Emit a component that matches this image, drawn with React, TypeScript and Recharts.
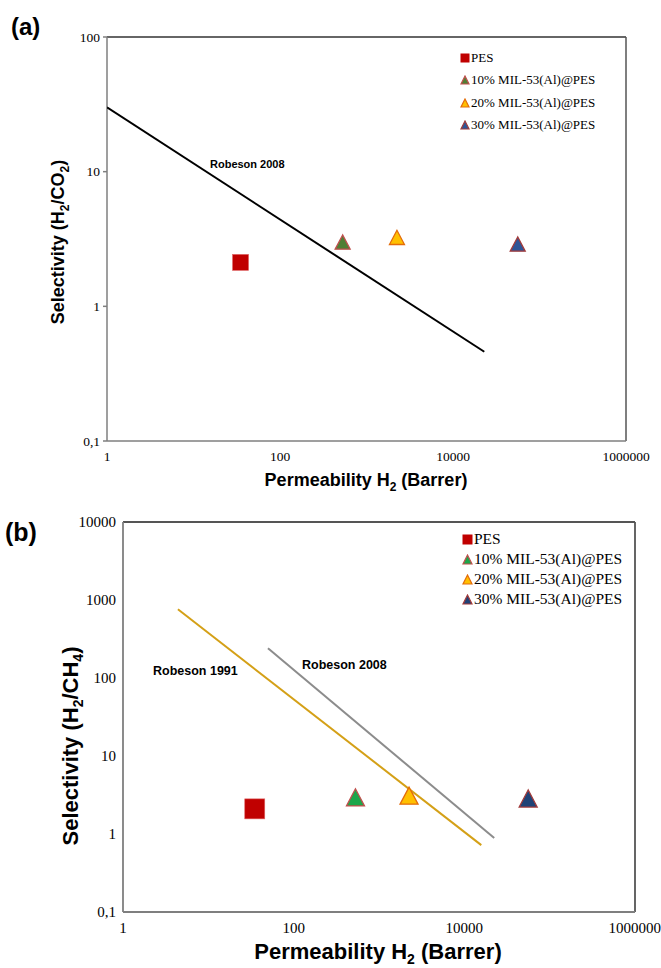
import React from 'react'
import {
  ScatterChart,
  Scatter,
  XAxis,
  YAxis,
  ReferenceLine,
} from 'recharts'

// H2 permeability (Barrer) for PES and the three MIL-53(Al)@PES loadings
const seriesNames = ['PES', '10% MIL-53(Al)@PES', '20% MIL-53(Al)@PES', '30% MIL-53(Al)@PES']
const permeability = [35, 530, 2250, 56000]
const selectivityCO2 = [2.12, 3.0, 3.25, 2.9]
const selectivityCH4 = [2.1, 2.95, 3.1, 2.85]

// upper bound lines (end points)
const robeson2008CO2P = [1, 23000]
const robeson2008CO2S = [30, 0.46]
const robeson1991CH4P = [4.4, 15800]
const robeson1991CH4S = [760, 0.72]
const robeson2008CH4P = [50, 22400]
const robeson2008CH4S = [240, 0.89]

const xTicks = [1, 100, 10000, 1000000]
const yTicksA = [0.1, 1, 10, 100]
const yTicksB = [0.1, 1, 10, 100, 1000, 10000]

const fillsA = ['#C00000', '#4F7F35', '#FFC000', '#2E5597']
const fillsB = ['#C00000', '#1DA64A', '#FFC000', '#1F4276']
const strokes = ['#C00000', '#C0504D', '#E46C0A', '#A23B3B']

const toRows = (xs: number[], ys: number[]) => xs.map((p, i) => ({ p, s: ys[i] }))

const serif = '"Liberation Serif", "Times New Roman", serif'
const sans = '"Liberation Sans", Arial, sans-serif'

function makeShape(kind: 'square' | 'triangle', size: number, fill: string, stroke: string) {
  return (props: any) => {
    const { cx, cy } = props
    if (cx == null || cy == null) return <g />
    if (kind === 'square') {
      return <rect x={cx - size / 2} y={cy - size / 2} width={size} height={size} fill={fill} stroke="#E06666" strokeWidth={0.6} />
    }
    const h = size * 0.95
    const pts = `${cx},${cy - h / 2} ${cx - size / 2},${cy + h / 2} ${cx + size / 2},${cy + h / 2}`
    return <polygon points={pts} fill={fill} stroke={stroke} strokeWidth={1.3} strokeLinejoin="miter" />
  }
}

const noDot = () => <g />
const fmt = (v: number) => String(v).replace('.', ',')

function LegendBox({ fills, left, top, gap, fontSize, mark }: { fills: string[]; left: number; top: number; gap: number; fontSize: number; mark: number }) {
  return (
    <div style={{ position: 'absolute', left, top, fontFamily: serif, fontSize, color: '#000' }}>
      {seriesNames.map((name, i) => (
        <div key={name} style={{ position: 'absolute', top: i * gap, left: 0, whiteSpace: 'nowrap', display: 'flex', alignItems: 'center', height: gap, marginTop: -gap / 2 }}>
          <svg width={mark + 1} height={mark + 1} style={{ marginRight: 1 }}>
            {i === 0 ? (
              <rect x={0.5} y={0.5} width={mark} height={mark} fill={fills[0]} />
            ) : (
              <polygon
                points={`${(mark + 1) / 2},1 1,${mark} ${mark},${mark}`}
                fill={fills[i]}
                stroke={strokes[i]}
                strokeWidth={1.2}
              />
            )}
          </svg>
          <span>{name}</span>
        </div>
      ))}
    </div>
  )
}

export default function App() {
  const pointsA = permeability.map((p, i) => [{ p, s: selectivityCO2[i] }])
  const pointsB = permeability.map((p, i) => [{ p, s: selectivityCH4[i] }])
  const axisGray = '#7F7F7F'

  return (
    <div style={{ position: 'absolute', left: 0, top: 0, width: 661, height: 968, background: '#fff', fontFamily: sans }}>
      {/* panel (a) */}
      <div style={{ position: 'absolute', left: 0, top: 0, width: 661, height: 484 }}>
        <ScatterChart width={661} height={484} margin={{ top: 37, right: 35, left: 47, bottom: 13 }}>
          <XAxis
            type="number"
            dataKey="p"
            scale="log"
            domain={[1, 1000000]}
            ticks={xTicks}
            allowDataOverflow
            tickLine={false}
            height={30}
            tickMargin={4}
            stroke={axisGray}
            strokeWidth={1.5}
            tick={{ fontFamily: serif, fontSize: 13.5, fill: '#000' }}
          />
          <YAxis
            type="number"
            dataKey="s"
            scale="log"
            domain={[0.1, 100]}
            ticks={yTicksA}
            allowDataOverflow
            width={60}
            tickSize={4}
            tickMargin={3}
            tickFormatter={fmt}
            stroke={axisGray}
            strokeWidth={1.5}
            tick={{ fontFamily: serif, fontSize: 13.5, fill: '#000' }}
          />
          <ReferenceLine y={100} stroke="#333" strokeWidth={1.5} />
          <ReferenceLine x={1000000} stroke="#555" strokeWidth={1.5} />
          <Scatter
            data={toRows(robeson2008CO2P, robeson2008CO2S)}
            line={{ stroke: '#000', strokeWidth: 2 }}
            shape={noDot}
            isAnimationActive={false}
          />
          {pointsA.map((d, i) => (
            <Scatter
              key={seriesNames[i]}
              name={seriesNames[i]}
              data={d}
              shape={makeShape(i === 0 ? 'square' : 'triangle', i === 0 ? 16 : 15, fillsA[i], strokes[i])}
              isAnimationActive={false}
            />
          ))}
        </ScatterChart>
        <div style={{ position: 'absolute', left: 11, top: 13, fontSize: 24, fontWeight: 'bold' }}>(a)</div>
        <div style={{ position: 'absolute', left: 210, top: 158, fontSize: 11, fontWeight: 'bold' }}>Robeson 2008</div>
        <div style={{ position: 'absolute', left: 366, top: 482, transform: 'translate(-50%, -50%)', fontSize: 18, fontWeight: 'bold', whiteSpace: 'nowrap' }}>
          Permeability H<sub style={{ fontSize: 12 }}>2</sub> (Barrer)
        </div>
        <div style={{ position: 'absolute', left: 60, top: 242, transform: 'translate(-50%, -50%) rotate(-90deg)', fontSize: 18, fontWeight: 'bold', whiteSpace: 'nowrap' }}>
          Selectivity (H<sub style={{ fontSize: 12 }}>2</sub>/CO<sub style={{ fontSize: 12 }}>2</sub>)
        </div>
        <LegendBox fills={fillsA} left={460} top={58} gap={22.3} fontSize={13} mark={9} />
      </div>

      {/* panel (b) */}
      <div style={{ position: 'absolute', left: 0, top: 484, width: 661, height: 484 }}>
        <ScatterChart width={661} height={484} margin={{ top: 38, right: 26, left: 63, bottom: 26 }}>
          <XAxis
            type="number"
            dataKey="p"
            scale="log"
            domain={[1, 1000000]}
            ticks={xTicks}
            allowDataOverflow
            tickLine={false}
            height={30}
            tickMargin={4}
            stroke={axisGray}
            strokeWidth={1.8}
            tick={{ fontFamily: serif, fontSize: 15, fill: '#000' }}
          />
          <YAxis
            type="number"
            dataKey="s"
            scale="log"
            domain={[0.1, 10000]}
            ticks={yTicksB}
            allowDataOverflow
            width={60}
            tickSize={0}
            tickMargin={7}
            tickFormatter={fmt}
            stroke={axisGray}
            strokeWidth={1.8}
            tick={{ fontFamily: serif, fontSize: 15, fill: '#000' }}
          />
          <ReferenceLine y={10000} stroke="#555" strokeWidth={1.8} />
          <ReferenceLine x={1000000} stroke="#555" strokeWidth={1.8} />
          <Scatter
            data={toRows(robeson1991CH4P, robeson1991CH4S)}
            line={{ stroke: '#D4A017', strokeWidth: 2 }}
            shape={noDot}
            isAnimationActive={false}
          />
          <Scatter
            data={toRows(robeson2008CH4P, robeson2008CH4S)}
            line={{ stroke: '#8C8C8C', strokeWidth: 2 }}
            shape={noDot}
            isAnimationActive={false}
          />
          {pointsB.map((d, i) => (
            <Scatter
              key={seriesNames[i]}
              name={seriesNames[i]}
              data={d}
              shape={makeShape(i === 0 ? 'square' : 'triangle', i === 0 ? 20 : 18, fillsB[i], strokes[i])}
              isAnimationActive={false}
            />
          ))}
        </ScatterChart>
        <div style={{ position: 'absolute', left: 5, top: 34, fontSize: 25, fontWeight: 'bold' }}>(b)</div>
        <div style={{ position: 'absolute', left: 153, top: 180, fontSize: 12.5, fontWeight: 'bold' }}>Robeson 1991</div>
        <div style={{ position: 'absolute', left: 302, top: 174, fontSize: 12.5, fontWeight: 'bold' }}>Robeson 2008</div>
        <div style={{ position: 'absolute', left: 378, top: 469, transform: 'translate(-50%, -50%)', fontSize: 22, fontWeight: 'bold', whiteSpace: 'nowrap' }}>
          Permeability H<sub style={{ fontSize: 14 }}>2</sub> (Barrer)
        </div>
        <div style={{ position: 'absolute', left: 72, top: 262, transform: 'translate(-50%, -50%) rotate(-90deg)', fontSize: 22, fontWeight: 'bold', whiteSpace: 'nowrap' }}>
          Selectivity (H<sub style={{ fontSize: 14 }}>2</sub>/CH<sub style={{ fontSize: 14 }}>4</sub>)
        </div>
        <LegendBox fills={fillsB} left={462} top={55} gap={20} fontSize={15.5} mark={10} />
      </div>
    </div>
  )
}
